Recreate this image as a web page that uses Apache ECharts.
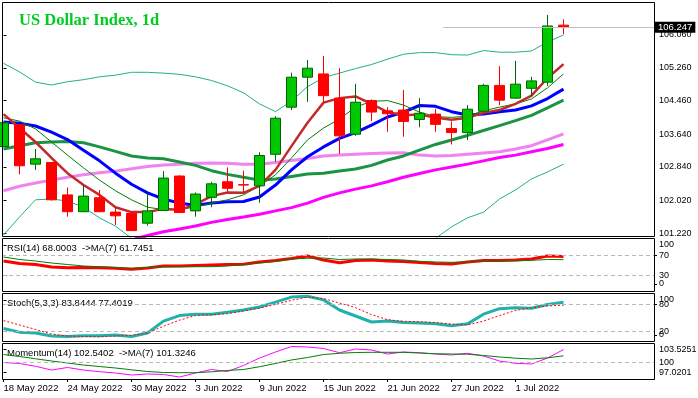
<!DOCTYPE html>
<html>
<head>
<meta charset="utf-8">
<script src="https://cdn.jsdelivr.net/npm/echarts@6/dist/echarts.min.js"></script>
<style>
html, body { margin: 0; padding: 0; background: #fff; }
#main { width: 698px; height: 398px; }
</style>
</head>
<body>
<div id="main"></div>
<script>
// дни (по одной свече на день)
const dates = ['18 May 2022', '19 May', '20 May', '23 May', '24 May 2022', '25 May', '26 May', '27 May',
  '30 May 2022', '31 May', '1 Jun', '2 Jun', '3 Jun 2022', '6 Jun', '7 Jun', '8 Jun',
  '9 Jun 2022', '10 Jun', '13 Jun', '14 Jun', '15 Jun 2022', '16 Jun', '17 Jun', '20 Jun',
  '21 Jun 2022', '22 Jun', '23 Jun', '24 Jun', '27 Jun 2022', '28 Jun', '29 Jun', '30 Jun',
  '1 Jul 2022', '4 Jul', '5 Jul', '6 Jul'];

const open = [103.34, 103.87, 102.91, 102.95, 102.16, 101.75, 102.09, 101.74, 101.71, 101.47, 101.78, 102.62,
  101.77, 102.10, 102.48, 102.41, 102.38, 103.15, 104.30, 105.03, 105.11, 104.52, 103.64, 104.46,
  104.21, 104.23, 104.00, 104.13, 103.78, 103.68, 104.20, 104.83, 104.52, 104.76, 104.91, 106.30];
const close = [103.92, 102.87, 103.04, 102.04, 101.75, 102.13, 101.75, 101.65, 101.29, 101.77, 102.57, 101.73,
  102.18, 102.43, 102.32, 102.40, 103.12, 104.03, 105.03, 105.25, 104.58, 103.60, 104.42, 104.18,
  104.14, 103.95, 104.15, 103.88, 103.68, 104.25, 104.83, 104.47, 104.86, 104.94, 106.28, 106.247];
const low = [103.33, 102.66, 102.77, 102.02, 101.63, 101.74, 101.74, 101.43, 101.28, 101.41, 101.77, 101.72,
  101.63, 101.86, 102.24, 102.20, 101.97, 102.97, 104.23, 104.43, 104.41, 103.16, 103.60, 103.96,
  103.70, 103.58, 103.81, 103.70, 103.39, 103.50, 104.19, 104.35, 104.51, 104.56, 104.82, 106.08];
const high = [103.93, 103.88, 103.28, 102.96, 102.34, 102.40, 102.28, 101.87, 101.72, 102.20, 102.74, 102.64,
  102.22, 102.48, 102.83, 102.75, 103.20, 104.08, 105.14, 105.45, 105.55, 105.25, 104.87, 104.49,
  104.30, 104.72, 104.52, 104.26, 103.95, 104.35, 104.87, 105.30, 105.43, 105.04, 106.55, 106.44];
const lastPrice = 106.247;

// скользящие средние и полосы на основном графике
const maRed = [104.13, 103.79, 103.45, 103.06, 102.69, 102.40, 102.16, 101.86, 101.74, 101.74, 101.82, 101.79,
  101.93, 102.13, 102.22, 102.21, 102.38, 102.77, 103.35, 103.92, 104.41, 104.52, 104.56, 104.38,
  104.18, 104.10, 104.12, 104.05, 103.99, 104.04, 104.16, 104.23, 104.38, 104.58, 105.01, 105.35];
const maThin = [104.04, 103.96, 103.77, 103.45, 103.13, 102.82, 102.52, 102.26, 102.04, 101.86, 101.80, 101.81,
  101.86, 101.96, 102.04, 102.16, 102.38, 102.65, 103.06, 103.50, 103.79, 104.01, 104.30, 104.44,
  104.46, 104.35, 104.18, 104.07, 104.05, 104.08, 104.21, 104.30, 104.38, 104.50, 104.77, 105.11];
const maBlue = [103.94, 103.91, 103.84, 103.69, 103.51, 103.25, 102.99, 102.69, 102.42, 102.21, 102.06, 101.96,
  101.90, 101.96, 101.99, 102.00, 102.11, 102.40, 102.77, 103.09, 103.33, 103.54, 103.68, 103.86,
  104.06, 104.18, 104.34, 104.32, 104.19, 104.11, 104.13, 104.19, 104.23, 104.33, 104.51, 104.74];
const maGreen = [103.28, 103.36, 103.43, 103.45, 103.46, 103.43, 103.33, 103.22, 103.11, 103.06, 103.04, 102.96,
  102.88, 102.75, 102.66, 102.59, 102.52, 102.55, 102.61, 102.67, 102.69, 102.74, 102.79, 102.88,
  103.01, 103.11, 103.25, 103.39, 103.50, 103.61, 103.73, 103.85, 103.97, 104.10, 104.28, 104.47];
const maPink = [102.26, 102.37, 102.45, 102.52, 102.59, 102.65, 102.70, 102.74, 102.80, 102.85, 102.89, 102.91,
  102.93, 102.94, 102.93, 102.91, 102.91, 102.95, 103.00, 103.05, 103.11, 103.13, 103.15, 103.17,
  103.18, 103.19, 103.13, 103.11, 103.12, 103.15, 103.18, 103.21, 103.28, 103.36, 103.50, 103.65];
const maMagenta = [null, null, null, null, null, null, null, null, 101.06, 101.17, 101.26, 101.33,
  101.40, 101.49, 101.56, 101.62, 101.69, 101.77, 101.85, 101.96, 102.10, 102.21, 102.30, 102.38,
  102.48, 102.59, 102.68, 102.77, 102.84, 102.91, 102.99, 103.07, 103.13, 103.21, 103.29, 103.39];
const bbUpper = [105.37, 105.16, 104.91, 104.84, 104.92, 104.97, 105.04, 105.08, 105.15, 105.15, 105.13, 105.10,
  105.04, 104.95, 104.82, 104.65, 104.38, 104.19, 104.45, 104.80, 105.02, 105.13, 105.24, 105.34,
  105.47, 105.59, 105.63, 105.63, 105.58, 105.57, 105.68, 105.64, 105.64, 105.67, 105.89, 106.06];
const bbLower = [101.18, 101.62, 102.04, 102.06, 102.01, 101.86, 101.60, 101.40, 101.10, null, null, null,
  null, null, null, null, null, null, null, null, null, null, null, null,
  null, null, null, 101.10, 101.38, 101.60, 101.74, 102.06, 102.28, 102.55, 102.72, 102.91];

// индикаторы
const rsi = [59, 54, 52, 47, 45.6, 46, 45.6, 44.4, 42.4, 45, 49, 49, 50, 51, 52, 52.4, 57, 60,
  64, 69, 61, 55.6, 60, 61, 59, 58, 56, 54, 53, 57, 60, 60, 61, 63, 69, 68.0003];
const rsiMa = [67, 62, 59, 55, 52, 49, 47.6, 46, 44.4, 46, 47, 47.6, 47.6, 47.6, 49, 52, 55, 58,
  63, 64.4, 65, 62, 63, 63, 62, 61, 58.4, 57, 56.4, 57, 58, 59, 59.4, 60.4, 62, 61.7451];
const stochK = [27, 19, 17, 10.6, 9.5, 11, 11, 12.8, 9.5, 17, 43, 55, 58, 58, 62, 67, 73.5, 84,
  95, 97, 89, 67, 54, 41, 43, 40, 39, 37, 33, 37, 58, 70, 72, 71, 79, 83.8444];
const stochD = [44, 34.5, 25, 15, 10.6, 9.5, 9, 10.6, 12, 17, 32, 45, 55, 57, 59, 65, 71, 79,
  88, 95, 92, 82, 72, 57, 46, 42.5, 41.6, 40, 36.7, 34.5, 43, 55, 66, 72, 75.7, 77.4019];
const mom = [100.03, 99.84, 99.29, 98.57, 99.06, 98.57, 98.24, 97.99, 97.60, 97.80, 97.70, 97.21,
  97.99, 98.67, 98.28, 99.45, 100.90, 102.07, 103.14, 103.04, 102.75, 101.93, 102.65, 102.46,
  101.68, 102.07, 101.93, 101.68, 101.49, 101.82, 101.29, 100.32, 99.87, 99.74, 100.90, 102.5402];
const momMa = [101.58, 101.20, 100.75, 100.32, 99.93, 99.54, 99.25, 98.96, 98.61, 98.28, 98.09, 98.05,
  98.05, 98.22, 98.48, 98.67, 99.21, 99.84, 100.52, 101.00, 101.58, 101.82, 101.97, 102.01,
  102.01, 102.01, 101.87, 101.72, 101.68, 101.64, 101.39, 101.10, 100.87, 100.71, 100.94, 101.3246];

const priceTicks = [106.06, 105.26, 104.46, 103.64, 102.84, 102.02, 101.22];
const dateTicks = [0, 4, 8, 12, 16, 20, 24, 28, 32];

let container = document.getElementById('main');
let chart = echarts.init(container);

const FONT = 'Liberation Sans';
const xMin = -0.094, xMax = 40.656;
const pts = arr => arr.map((v, i) => [i, v == null ? '-' : v]);

// подписи осей, как в терминале: крайние смещены внутрь панели
function pick(pos, text) {
  return v => {
    const k = pos.findIndex(p => Math.abs(p - v) < 1e-6);
    return k < 0 ? '' : text[k];
  };
}

function line(name, data, color, width, grid, extra) {
  return Object.assign({
    name: name, type: 'line', xAxisIndex: grid, yAxisIndex: grid,
    data: pts(data), showSymbol: false, symbol: 'none', connectNulls: false,
    lineStyle: { color: color, width: width }, silent: true
  }, extra || {});
}

function levels(vals) {
  return {
    silent: true, symbol: 'none', animation: false, label: { show: false },
    lineStyle: { color: '#b8b8b8', width: 1, type: [4, 3] },
    data: vals.map(v => ({ yAxis: v }))
  };
}

function yAx(grid, min, max, pos, text) {
  return {
    type: 'value', gridIndex: grid, position: 'right', min: min, max: max,
    axisLine: { show: false }, splitLine: { show: false },
    axisTick: { show: true, length: 3, customValues: pos, lineStyle: { color: '#000' } },
    axisLabel: { customValues: pos, formatter: pick(pos, text), margin: 5, hideOverlap: false,
      showMinLabel: true, showMaxLabel: true,
      fontSize: 9, fontFamily: FONT, color: '#000' }
  };
}

function xAx(grid) {
  return { type: 'value', gridIndex: grid, min: xMin, max: xMax, show: false };
}

const grids = [
  { left: 2, right: 44, top: 3, height: 234 },
  { left: 2, right: 44, top: 240.5, height: 50 },
  { left: 2, right: 44, top: 294.8, height: 46.1 },
  { left: 2, right: 44, top: 344.5, height: 33.5 }
].map(g => Object.assign(g, { outerBoundsMode: 'none' }));

const panelText = (txt, y) => ({
  type: 'text', left: 7, top: y, silent: true,
  style: { text: txt, fill: '#000', font: '9.5px "Liberation Sans"' }
});
const frame = (y1, y2) => ({
  type: 'rect', silent: true, z: 100,
  shape: { x: 2.5, y: y1, width: 652, height: y2 - y1 },
  style: { fill: 'none', stroke: '#000', lineWidth: 1 }
});

chart.setOption({
  animation: false,
  backgroundColor: '#fff',
  grid: grids,
  xAxis: [
    xAx(0), xAx(1), xAx(2),
    {
      type: 'value', gridIndex: 3, min: xMin, max: xMax, offset: 1,
      axisLine: { show: false }, splitLine: { show: false },
      axisTick: { show: true, length: 3, customValues: dateTicks, lineStyle: { color: '#000' } },
      axisLabel: { customValues: dateTicks, formatter: v => dates[v], align: 'left', margin: 4,
        hideOverlap: false, fontSize: 9.5, fontFamily: FONT, color: '#000' }
    }
  ],
  yAxis: [
    yAx(0, 101.133, 106.84, priceTicks, priceTicks.map(v => v.toFixed(3))),
    yAx(1, 0, 100, [91, 30], ['100', '30']),
    yAx(2, 0, 100, [89, 20], ['100', '20']),
    yAx(3, 97.0201, 103.5251, [102.59, 100, 98.05], ['103.5251', '100', '97.0201']),
    // вторые оси для налезающих друг на друга подписей
    yAx(1, 0, 100, [70, 13], ['70', '0']),
    yAx(2, 0, 100, [80, 13], ['80', '0'])
  ],
  graphic: [
    {
      type: 'text', left: 19, top: 12, silent: true,
      style: { text: 'US Dollar Index, 1d', fill: '#00cc22', font: 'bold 16.5px "Liberation Serif"' }
    },
    panelText('RSI(14) 68.0003  ->MA(7) 61.7451', 243),
    panelText('Stoch(5,3,3) 83.8444 77.4019', 298),
    panelText('Momentum(14) 102.5402  ->MA(7) 101.3246', 348.5),
    frame(2.5, 236.5), frame(238.5, 291.5), frame(293.5, 341.5), frame(343.5, 379.5)
  ],
  series: [
    line('BB upper', bbUpper, '#20b088', 1, 0),
    line('BB lower', bbLower, '#20b088', 1, 0),
    line('MA pink', maPink, '#f282f0', 3, 0),
    line('MA magenta', maMagenta, '#ff00ff', 3, 0),
    line('MA green', maGreen, '#1a9443', 3, 0),
    line('MA blue', maBlue, '#0000ff', 3, 0),
    line('MA thin', maThin, '#008000', 1, 0),
    line('MA red', maRed, '#c42a2a', 2.5, 0),
    {
      name: 'USDX', type: 'candlestick', xAxisIndex: 0, yAxisIndex: 0, z: 3,
      data: dates.map((d, i) => [i, open[i], close[i], low[i], high[i]]),
      barWidth: 10, silent: true,
      itemStyle: { color: '#00c800', color0: '#ff0000', borderColor: '#006400', borderColor0: '#ff0000', borderWidth: 1 },
      markLine: {
        silent: true, symbol: 'none', animation: false,
        lineStyle: { color: '#c0c0c0', width: 1, type: 'solid' },
        label: { position: 'end', formatter: lastPrice.toFixed(3), backgroundColor: '#000', color: '#fff',
          padding: [1, 3, 0, 3], fontSize: 9.5, fontFamily: FONT, distance: 1 },
        data: [[{ coord: [27.47, lastPrice] }, { coord: [xMax, lastPrice] }]]
      }
    },
    line('RSI', rsi, '#ff0000', 3, 1, { markLine: levels([70, 30]) }),
    line('RSI MA', rsiMa, '#008000', 1, 1),
    line('Stoch', stochK, '#20b2aa', 3, 2, { markLine: levels([80, 20]) }),
    line('Stoch signal', stochD, '#ff0000', 1, 2, { lineStyle: { color: '#ff0000', width: 1, type: [2, 2] } }),
    line('Momentum', mom, '#ff00ff', 1, 3, { markLine: levels([100]) }),
    line('Momentum MA', momMa, '#008000', 1, 3)
  ]
});
</script>
</body>
</html>
